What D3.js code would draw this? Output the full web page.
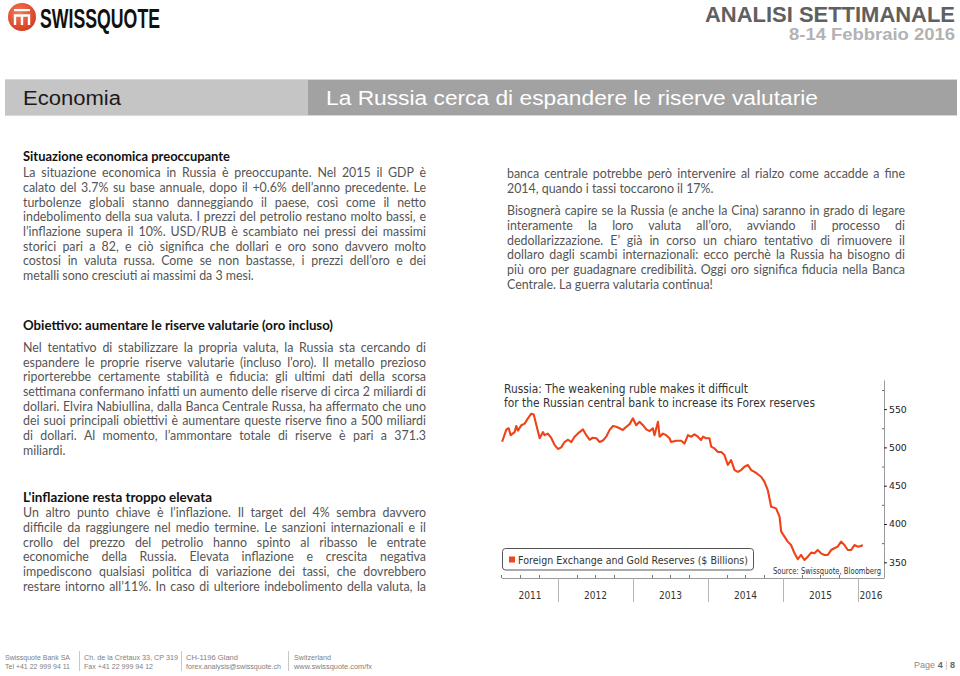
<!DOCTYPE html>
<html><head><meta charset="utf-8">
<script src="https://cdn.jsdelivr.net/npm/d3@7"></script>
<style>
html,body{margin:0;padding:0;background:#fff;}
svg{display:block;}
.body{font-family:Lato,"Open Sans",sans-serif;fill:#555;}
.head{font-family:Lato,"Open Sans",sans-serif;font-size:13px;font-weight:bold;fill:#111;}
.ct{font-family:"DejaVu Sans",sans-serif;fill:#333;}
.foot{font-family:"Liberation Sans",Arial,sans-serif;font-size:7.6px;fill:#808080;}
</style></head>
<body>
<svg id="page" width="960" height="676"></svg>
<script>
// ---------------- Chart data: Foreign Exchange and Gold Reserves ($ Billions) ----------------
const dates = [
 "2011-04-04","2011-04-25","2011-05-06","2011-05-16","2011-06-04","2011-06-12","2011-06-20","2011-07-07","2011-07-23","2011-08-08","2011-08-24","2011-09-05","2011-09-18","2011-10-04","2011-10-20","2011-10-28","2011-11-13","2011-11-30","2011-12-16",
 "2012-01-01","2012-01-17","2012-02-02","2012-02-19","2012-03-06","2012-03-22","2012-04-15","2012-05-02","2012-05-18","2012-06-03","2012-06-19","2012-07-06","2012-07-22","2012-08-07","2012-08-23","2012-09-08","2012-09-25","2012-10-11","2012-10-27","2012-11-12","2012-11-29","2012-12-15","2012-12-31",
 "2013-01-16","2013-02-01","2013-02-18","2013-03-06","2013-03-22","2013-04-07","2013-04-15","2013-05-02","2013-05-10","2013-05-26","2013-06-11","2013-06-27","2013-07-05","2013-07-30","2013-08-23","2013-09-08","2013-09-25","2013-10-11","2013-10-27","2013-11-12","2013-11-28","2013-12-07","2013-12-23",
 "2014-01-08","2014-01-16","2014-02-01","2014-02-18","2014-03-06","2014-03-22","2014-04-07","2014-04-23","2014-05-10","2014-05-26","2014-06-11","2014-06-27","2014-07-14","2014-07-30","2014-08-15","2014-08-31","2014-09-16","2014-10-03","2014-10-19","2014-11-04","2014-11-28","2014-12-15","2014-12-23",
 "2015-01-08","2015-01-24","2015-02-09","2015-02-26","2015-03-14","2015-03-30","2015-04-15","2015-05-02","2015-05-18","2015-06-03","2015-06-19","2015-07-05","2015-07-22","2015-08-07","2015-08-23","2015-09-08","2015-09-24","2015-10-11","2015-10-27","2015-11-12","2015-11-28","2015-12-15","2015-12-31",
 "2016-01-16","2016-01-24"];
const reserves = [
 507.4,523.5,525,516,520,528,522,529,531,538,544,543,529,512,520,516,518,512,503,
 498,500,507,510,507,514,520,523.5,516,510,512.6,512,507,509,514,522.6,528,527,525,522.6,527,530.4,538,
 529,533.5,529,523.5,521.3,525,516,533.5,514,518,516,512,507,508.7,508.7,505,516,514,517,514,509.6,514,512,
 512,501,498.7,494,494,490,477,483.5,470.4,468,470.4,474.8,477,470.4,468,465,461.7,455,444,422.6,420.4,409.6,390,
 383.5,377,372.6,361.7,354,359.6,353,357.4,362.6,361.7,366,361.7,359.6,359.6,366,368.3,370.4,377,372.6,366,366,372.6,370.4,
 371.3,372.6];
const yTicks = [350,400,450,500,550];
const yMinorTicks = [375,425,475,525,575];
const years = [2011,2012,2013,2014,2015,2016];
const chartTitle = ["Russia: The weakening ruble makes it difficult","for the Russian central bank to increase its Forex reserves"];
const legendLabel = "Foreign Exchange and Gold Reserves ($ Billions)";
const sourceLabel = "Source: Swissquote, Bloomberg";

// ---------------- Page text ----------------
const pageTitle = "ANALISI SETTIMANALE";
const pageDate = "8-14 Febbraio 2016";
const section = "Economia";
const headline = "La Russia cerca di espandere le riserve valutarie";
const head1 = "Situazione economica preoccupante";
const para1 = [
 "La situazione economica in Russia è preoccupante. Nel 2015 il GDP è",
 "calato del 3.7% su base annuale, dopo il +0.6% dell’anno precedente. Le",
 "turbolenze globali stanno danneggiando il paese, così come il netto",
 "indebolimento della sua valuta. I prezzi del petrolio restano molto bassi, e",
 "l’inflazione supera il 10%. USD/RUB è scambiato nei pressi dei massimi",
 "storici pari a 82, e ciò significa che dollari e oro sono davvero molto",
 "costosi in valuta russa. Come se non bastasse, i prezzi dell’oro e dei",
 "metalli sono cresciuti ai massimi da 3 mesi."];
const head2 = "Obiettivo: aumentare le riserve valutarie (oro incluso)";
const para2 = [
 "Nel tentativo di stabilizzare la propria valuta, la Russia sta cercando di",
 "espandere le proprie riserve valutarie (incluso l’oro). Il metallo prezioso",
 "riporterebbe certamente stabilità e fiducia: gli ultimi dati della scorsa",
 "settimana confermano infatti un aumento delle riserve di circa 2 miliardi di",
 "dollari. Elvira Nabiullina, dalla Banca Centrale Russa, ha affermato che uno",
 "dei suoi principali obiettivi è aumentare queste riserve fino a 500 miliardi",
 "di dollari. Al momento, l’ammontare totale di riserve è pari a 371.3",
 "miliardi."];
const head3 = "L'inflazione resta troppo elevata";
const para3 = [
 "Un altro punto chiave è l’inflazione. Il target del 4% sembra davvero",
 "difficile da raggiungere nel medio termine. Le sanzioni internazionali e il",
 "crollo del prezzo del petrolio hanno spinto al ribasso le entrate",
 "economiche della Russia. Elevata inflazione e crescita negativa",
 "impediscono qualsiasi politica di variazione dei tassi, che dovrebbero",
 "restare intorno all’11%. In caso di ulteriore indebolimento della valuta, la"];
const para4 = [
 "banca centrale potrebbe però intervenire al rialzo come accadde a fine",
 "2014, quando i tassi toccarono il 17%."];
const para5 = [
 "Bisognerà capire se la Russia (e anche la Cina) saranno in grado di legare",
 "interamente la loro valuta all’oro, avviando il processo di",
 "dedollarizzazione. E’ già in corso un chiaro tentativo di rimuovere il",
 "dollaro dagli scambi internazionali: ecco perchè la Russia ha bisogno di",
 "più oro per guadagnare credibilità. Oggi oro significa fiducia nella Banca",
 "Centrale. La guerra valutaria continua!"];
const footerCols = [
 ["Swissquote Bank SA","Tel +41 22 999 94 11"],
 ["Ch. de la Crétaux 33, CP 319","Fax +41 22 999 94 12"],
 ["CH-1196 Gland","forex.analysis@swissquote.ch"],
 ["Switzerland","www.swissquote.com/fx"]];

// ---------------- Drawing ----------------
const svg = d3.select("#page");
function fit(sel, w){ sel.attr("textLength", w).attr("lengthAdjust","spacingAndGlyphs"); return sel; }

// Header
const defs = svg.append("defs");
const lg = defs.append("radialGradient").attr("id","logoG").attr("cx","40%").attr("cy","35%").attr("r","70%");
lg.append("stop").attr("offset","0%").attr("stop-color","#f7795a");
lg.append("stop").attr("offset","100%").attr("stop-color","#d33a1e");
svg.append("circle").attr("cx",22).attr("cy",17).attr("r",14).attr("fill","url(#logoG)");
svg.append("rect").attr("x",14).attr("y",9).attr("width",16).attr("height",2.2).attr("fill","#fff");
svg.append("path").attr("d","M15 25 V15.5 H29 V25 M22 15.5 V25").attr("fill","none").attr("stroke","#fff").attr("stroke-width",2.4);
fit(svg.append("text").attr("x",40).attr("y",28).style("font-family","'Liberation Sans',Arial,sans-serif")
  .style("font-size","27px").style("font-weight","bold").attr("fill","#111").text("SWISSQUOTE"),120);
fit(svg.append("text").attr("x",955).attr("y",21.5).attr("text-anchor","end").style("font-family","'Liberation Sans',Arial,sans-serif")
  .style("font-size","22.5px").style("font-weight","bold").attr("fill","#606060").text(pageTitle),250);
fit(svg.append("text").attr("x",955).attr("y",40).attr("text-anchor","end").style("font-family","'Liberation Sans',Arial,sans-serif")
  .style("font-size","16px").style("font-weight","bold").attr("fill","#b2b2b2").text(pageDate),166);

// Banner
svg.append("rect").attr("x",5).attr("y",79).attr("width",303).attr("height",36).attr("fill","#c5c5c5");
svg.append("rect").attr("x",308).attr("y",79).attr("width",649).attr("height",36).attr("fill","#a2a2a2");
svg.append("line").attr("x1",5).attr("x2",957).attr("y1",79.5).attr("y2",79.5).attr("stroke","#d8d8d8");
svg.append("line").attr("x1",5).attr("x2",957).attr("y1",115.5).attr("y2",115.5).attr("stroke","#d8d8d8");
fit(svg.append("text").attr("x",23).attr("y",105).style("font-family","'Liberation Sans',Arial,sans-serif")
  .style("font-size","20px").attr("fill","#1a1a1a").text(section),98);
fit(svg.append("text").attr("x",326).attr("y",105).style("font-family","'Liberation Sans',Arial,sans-serif")
  .style("font-size","20px").attr("fill","#fff").text(headline),492);

// Body text: find the font size at which the tightest justified line just fits
const LX = 23, LW = 403, RX = 507, RW = 398;
const blocks = [
  {lines:para1, x:LX, y:177.3, w:LW, lastJ:false},
  {lines:para2, x:LX, y:352,   w:LW, lastJ:false},
  {lines:para3, x:LX, y:517.4, w:LW, lastJ:true},
  {lines:para4, x:RX, y:178.3, w:RW, lastJ:false},
  {lines:para5, x:RX, y:215.3, w:RW, lastJ:false}];
const probe = svg.append("text").attr("class","body").style("font-size","12px");
let scale = 1.1;
blocks.forEach(b=>b.lines.forEach((l,i)=>{
  if(i===b.lines.length-1 && !b.lastJ) return;
  probe.text(l); scale = Math.min(scale, b.w / probe.node().getComputedTextLength());
}));
probe.remove();
const bodySize = Math.max(11, 12*scale*0.995);

function drawLine(str, x, y, width, justify){
  const t = svg.append("text").attr("class","body").attr("y",y).attr("x",x).style("font-size",bodySize+"px");
  if(!justify){ t.text(str); return; }
  const words = str.split(" ");
  const spans = words.map(w => t.append("tspan").text(w));
  const ws = spans.map(s => s.node().getComputedTextLength());
  const gap = (width - d3.sum(ws)) / (words.length - 1);
  let cx = x;
  spans.forEach((s,i)=>{ s.attr("x",cx); cx += ws[i] + gap; });
}
blocks.forEach(b=>b.lines.forEach((l,i)=>{
  const last = i===b.lines.length-1;
  drawLine(l, b.x, b.y + i*14.65, b.w, !last || b.lastJ);
}));
fit(svg.append("text").attr("class","head").attr("x",LX).attr("y",161).text(head1),207);
fit(svg.append("text").attr("class","head").attr("x",LX).attr("y",329.5).text(head2),310);
fit(svg.append("text").attr("class","head").attr("x",LX).attr("y",501.7).text(head3),189);

// ---------------- Chart ----------------
const parse = d3.timeParse("%Y-%m-%d");
const series = dates.map((d,i)=>({date:parse(d), value:reserves[i]}));
const x = d3.scaleTime().domain([new Date(2011,0,1), new Date(2016,0,1)]).range([483, 858]);
const y = d3.scaleLinear().domain([329.5, 588]).range([578, 380]);
const plotL = 502, plotR = 884, plotB = 578;
const ch = svg.append("g");

chartTitle.forEach((t,i)=>{
  fit(ch.append("text").attr("class","ct").attr("x",504).attr("y",392.5 + i*14).style("font-size","11.5px").text(t), i===0?244:311);
});

ch.append("line").attr("x1",plotL).attr("x2",plotR).attr("y1",plotB+0.5).attr("y2",plotB+0.5).attr("stroke","#9a9a9a");
const quarters = d3.timeMonth.every(3).range(new Date(2011,3,1), new Date(2016,3,1))
   .filter(d => d.getMonth()!==0 && x(d) <= plotR);
ch.selectAll(".qt").data(quarters).join("line")
  .attr("x1",d=>Math.round(x(d))+0.5).attr("x2",d=>Math.round(x(d))+0.5)
  .attr("y1",plotB-3).attr("y2",plotB).attr("stroke","#777");
const yearStarts = years.slice(1).map(yr=>new Date(yr,0,1));
ch.selectAll(".yd").data(yearStarts).join("line")
  .attr("x1",d=>Math.round(x(d))+0.5).attr("x2",d=>Math.round(x(d))+0.5)
  .attr("y1",plotB).attr("y2",plotB+24).attr("stroke","#b5b5b5");
ch.selectAll(".yl").data(years).join("text").attr("class","ct")
  .attr("x",yr=>{ const a=Math.max(plotL,x(new Date(yr,0,1))), b=Math.min(plotR,x(new Date(yr+1,0,1))); return (a+b)/2; })
  .attr("y",599).attr("text-anchor","middle").style("font-size","11px").attr("fill","#222")
  .text(d=>d).attr("textLength",23).attr("lengthAdjust","spacingAndGlyphs");

const ax = ch.append("g").attr("transform",`translate(${plotR},0)`)
  .call(d3.axisRight(y).tickValues(yTicks).tickSize(3).tickSizeOuter(0).tickPadding(2));
ax.select(".domain").attr("stroke","#9a9a9a");
ax.selectAll(".tick line").attr("stroke","#222");
ax.selectAll(".tick text").style("font-family","'DejaVu Sans',sans-serif").style("font-size","9.3px").attr("fill","#222");
const axm = ch.append("g").attr("transform",`translate(${plotR},0)`)
  .call(d3.axisLeft(y).tickValues(yMinorTicks).tickSize(2).tickFormat(""));
axm.select(".domain").remove();
axm.selectAll(".tick line").attr("stroke","#666");

ch.append("path").datum(series)
  .attr("fill","none").attr("stroke","#ee4218").attr("stroke-width",2.1).attr("stroke-linejoin","round")
  .attr("d", d3.line().x(d=>x(d.date)).y(d=>y(d.value)));

ch.append("rect").attr("x",502.5).attr("y",548.5).attr("width",251).attr("height",21.5).attr("rx",3)
  .attr("fill","#fff").attr("stroke","#555");
ch.append("rect").attr("x",509).attr("y",556.5).attr("width",6).attr("height",6).attr("fill","#f0461c");
fit(ch.append("text").attr("class","ct").attr("x",518).attr("y",563.5).style("font-size","11px").text(legendLabel),230);
fit(ch.append("text").attr("class","ct").attr("x",773).attr("y",574).style("font-size","8.5px").text(sourceLabel),108);

// ---------------- Footer ----------------
const fx = [5, 84, 186, 294], sepX = [79.5, 181.5, 288.5];
const fw = [[65,65],[94,69],[52,95],[37,78]];
footerCols.forEach((c,i)=>{
  c.forEach((t,j)=> fit(svg.append("text").attr("class","foot").attr("x",fx[i]).attr("y",660 + j*9.3).text(t), fw[i][j]));
});
sepX.forEach(s=> svg.append("line").attr("x1",s).attr("x2",s).attr("y1",651).attr("y2",671).attr("stroke","#c8c8c8"));
const pg = svg.append("text").attr("x",955).attr("y",668).attr("text-anchor","end")
  .style("font-family","'Liberation Sans',Arial,sans-serif").style("font-size","9px").attr("fill","#8a8a8a");
pg.append("tspan").text("Page ");
pg.append("tspan").style("font-weight","bold").attr("fill","#666").text("4");
pg.append("tspan").attr("fill","#bbb").text(" | ");
pg.append("tspan").style("font-weight","bold").attr("fill","#666").text("8");
</script>
</body></html>
